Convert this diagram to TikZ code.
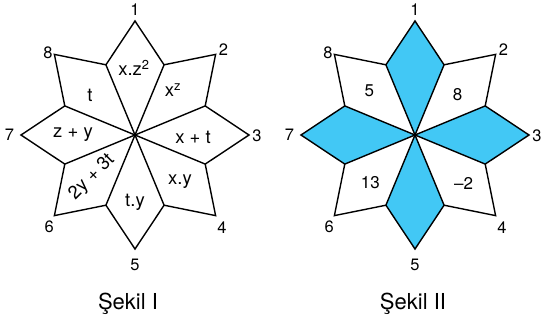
\documentclass[tikz,border=0pt]{standalone}
\usepackage{fontspec}
\setmainfont{TeX Gyre Heros}
\definecolor{petal}{RGB}{66,200,245}
\tikzset{
  outline/.style={line width=1.4pt, line join=miter, black},
  tiplabel/.style={inner sep=0pt, font=\fontsize{16.5}{16.5}\selectfont},
  cell/.style={inner sep=0pt, font=\fontsize{18.5}{18.5}\selectfont},
  numcell/.style={inner sep=0pt, font=\fontsize{17}{17}\selectfont},
  caption/.style={inner sep=0pt, anchor=base, font=\fontsize{22}{22}\selectfont},
}
% star skeleton: centre, tips t1..t8 (clockwise from the top), inner corners i1..i8
\newcommand{\starpoints}[1]{%
  \foreach \k in {1,...,8} {
    \pgfmathsetmacro{\ang}{45*(\k-1)-90}
    \coordinate (#1-t\k) at ([shift={(\ang:114)}]#1-c);
    \coordinate (#1-i\k) at ([shift={(\ang+22.5:76)}]#1-c);
  }%
}
\newcommand{\starlines}[1]{%
  \draw[outline] (#1-t1) -- (#1-i1) -- (#1-t2) -- (#1-i2) -- (#1-t3) -- (#1-i3)
    -- (#1-t4) -- (#1-i4) -- (#1-t5) -- (#1-i5) -- (#1-t6) -- (#1-i6)
    -- (#1-t7) -- (#1-i7) -- (#1-t8) -- (#1-i8) -- cycle;
  \foreach \k in {1,...,8} { \draw[outline] (#1-c) -- (#1-i\k); }
  \fill (#1-c) circle (1.6);
}
\newcommand{\starnumbers}[1]{%
  \node[tiplabel] (#1-l1) at ([shift={(0,-125)}]#1-c) {1};
  \node[tiplabel] (#1-l2) at ([shift={(88.5,-85.7)}]#1-c) {2};
  \node[tiplabel] (#1-l3) at ([shift={(122,1)}]#1-c) {3};
  \node[tiplabel] (#1-l4) at ([shift={(87,92.5)}]#1-c) {4};
  \node[tiplabel] (#1-l5) at ([shift={(0,130)}]#1-c) {5};
  \node[tiplabel] (#1-l6) at ([shift={(-85.7,92)}]#1-c) {6};
  \node[tiplabel] (#1-l7) at ([shift={(-125.5,0)}]#1-c) {7};
  \node[tiplabel] (#1-l8) at ([shift={(-87,-82)}]#1-c) {8};
}
\begin{document}
\begin{tikzpicture}[x=1pt, y=-1pt]
\useasboundingbox (0,0) rectangle (542,322);

% ---------- Şekil I ----------
\coordinate (A-c) at (135,135);
\starpoints{A}
\starlines{A}
\starnumbers{A}
\node[cell] (A-r1) at ([shift={(-1,-67)}]A-c) {x.z\textsuperscript{2}};
\node[cell] (A-r2) at ([shift={(38,-45)}]A-c) {x\textsuperscript{z}};
\node[cell] (A-r3) at ([shift={(58,2)}]A-c) {x + t};
\node[cell] (A-r4) at ([shift={(45,47)}]A-c) {x.y};
\node[cell] (A-r5) at ([shift={(0,67)}]A-c) {t.y};
\node[cell, rotate=45] (A-r6) at ([shift={(-43,42)}]A-c) {2y + 3t};
\node[cell] (A-r7) at ([shift={(-62,0)}]A-c) {z + y};
\node[cell] (A-r8) at ([shift={(-45,-40)}]A-c) {t};
\node[caption] (A-cap) at (128,309) {Şekil I};

% ---------- Şekil II ----------
\coordinate (B-c) at (415,135);
\starpoints{B}
\fill[petal] (B-c) -- (B-i8) -- (B-t1) -- (B-i1) -- cycle;
\fill[petal] (B-c) -- (B-i2) -- (B-t3) -- (B-i3) -- cycle;
\fill[petal] (B-c) -- (B-i4) -- (B-t5) -- (B-i5) -- cycle;
\fill[petal] (B-c) -- (B-i6) -- (B-t7) -- (B-i7) -- cycle;
\starlines{B}
\starnumbers{B}
\node[numcell] (B-r2) at ([shift={(42.7,-40)}]B-c) {8};
\node[numcell] (B-r4) at ([shift={(48.7,48)}]B-c) {–2};
\node[numcell] (B-r6) at ([shift={(-44.7,47.7)}]B-c) {13};
\node[numcell] (B-r8) at ([shift={(-45.7,-44.3)}]B-c) {5};
\node[caption] (B-cap) at (413,309) {Şekil II};
\end{tikzpicture}
\end{document}
